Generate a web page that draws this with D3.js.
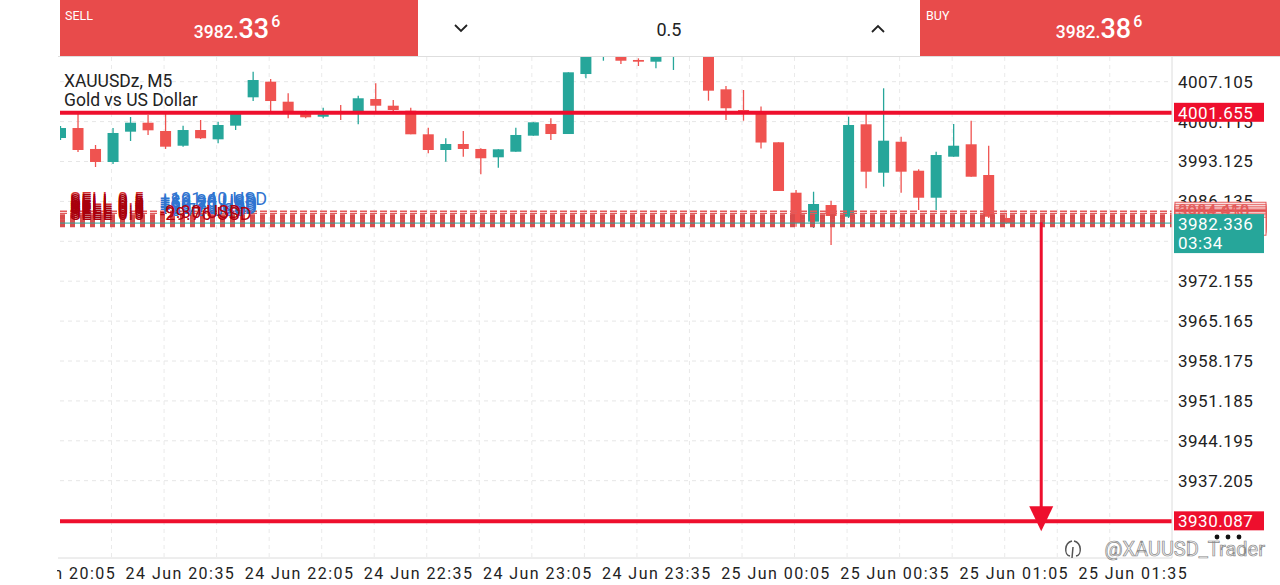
<!DOCTYPE html>
<html>
<head>
<meta charset="utf-8">
<script src="https://cdn.jsdelivr.net/npm/d3@7"></script>
<style>
  body { margin: 0; background: #fff; overflow: hidden; }
  text { font-family: Roboto, sans-serif; }
</style>
</head>
<body>
<div id="chart"></div>
<script>

// ---- data ----
var symbolName = "XAUUSDz, M5"
var symbolDesc = "Gold vs US Dollar"

var opens  = [3997.24,3998.99,3995.32,3993.04,3998.35,3999.92,3998.47,3995.89,3998.64,3997.01,
              3999.40,4004.37,4007.11,4003.60,4001.57,4000.97,4001.85,4001.85,4004.07,4002.90,
              4002.02,3997.89,3995.14,3996.19,3995.32,3993.86,3994.84,3997.65,3999.70,3997.94,
              4008.45,4012.50,4012.13,4010.91,4010.61,4012.00,4012.80,4013.20,4005.77,4002.15,
              4001.62,3996.49,3987.66,3982.58,3985.50,3983.45,3999.64,3991.16,3996.59,3991.51,
              3986.78,3993.97,3996.14,3990.76,3983.23]
var highs  = [3999.35,4001.45,3996.02,3998.99,4000.92,4001.27,4001.62,3999.40,4000.40,4000.10,
              4001.85,4008.86,4007.58,4005.07,4002.02,4002.55,4003.02,4004.65,4006.83,4003.90,
              4002.55,3999.05,3997.19,3998.47,3995.44,3995.26,3999.05,3999.99,4000.69,4008.75,
              4013.01,4014.00,4012.90,4011.20,4012.60,4013.50,4014.20,4013.80,4006.35,4005.65,
              4002.76,3996.49,3988.13,3987.83,3986.26,4000.97,4001.57,4005.95,3997.47,3991.76,
              3994.84,3999.70,4000.27,3995.89,3984.05]
var lows   = [3996.89,3994.79,3992.16,3992.69,3996.72,3997.77,3995.32,3995.72,3997.07,3996.31,
              3998.64,4003.72,4001.97,4000.69,4000.69,4000.69,4000.40,3999.64,4001.85,4001.85,
              3997.89,3994.56,3993.09,3993.97,3990.88,3992.04,3994.84,3997.65,3996.89,3997.94,
              4007.70,4010.78,4010.21,4009.86,4009.46,4009.16,4011.90,4003.78,4000.40,4000.27,
              3995.40,3987.96,3981.70,3981.48,3978.50,3983.23,3988.43,3988.71,3987.66,3984.63,
              3984.63,3993.97,3990.46,3983.23,3982.20]
var closes = [3998.99,3995.14,3993.04,3998.12,3999.92,3998.59,3995.72,3998.64,3997.19,3999.52,
              4001.57,4007.40,4003.72,4001.85,4000.87,4001.39,4001.50,4004.20,4002.90,4002.15,
              3997.89,3995.14,3996.19,3995.32,3993.69,3995.26,3997.77,3999.99,3997.94,4008.75,
              4012.31,4013.20,4010.78,4010.61,4012.13,4012.80,4013.50,4005.53,4002.45,4001.85,
              3996.45,3987.96,3982.35,3985.68,3983.58,3999.52,3991.34,3996.77,3991.34,3986.78,
              3994.26,3995.89,3990.46,3983.45,3982.336]

var timeLabels = ["24 Jun 20:05","24 Jun 20:35","24 Jun 22:05","24 Jun 22:35","24 Jun 23:05",
                  "24 Jun 23:35","25 Jun 00:05","25 Jun 00:35","25 Jun 01:05","25 Jun 01:35"]
var priceTicks = [4007.105,4000.115,3993.125,3986.135,3979.145,3972.155,3965.165,
                  3958.175,3951.185,3944.195,3937.205,3930.215]

var levelPrices = [4001.655, 3930.087]      // the two solid red levels
var arrowBar = 56                            // bar index of the down arrow
var bid = 3982.336, ask = 3982.386
var countdown = "03:34"
var volume = "0.5"

var orderPrices  = [3984.41,3984.05,3983.71,3983.40,3983.10,3982.80,3982.50,3982.20,3981.79]
var orderProfits = [101.40,83.20,66.20,50.70,35.70,20.70,5.70,-9.30,-29.76]

// ---- layout ----
var W = 1280, H = 585
var pLeft = 60, pRight = 1172, pTop = 57, pBottom = 558

var bull = "#26a69a", bear = "#ef5350", level = "#ee0f2d", barRed = "#e84b4b"

var svg = d3.select("#chart").append("svg")
    .attr("width", W).attr("height", H)

var x = d3.scaleLinear().domain([0, 54]).range([60.5, 1006.2])
var y = d3.scaleLinear().domain([4007.105, 3937.205]).range([81.7, 480.7])

var defs = svg.append("defs")
defs.append("clipPath").attr("id", "plot")
  .append("rect").attr("x", pLeft).attr("y", pTop)
  .attr("width", pRight - pLeft).attr("height", pBottom - pTop)
defs.append("clipPath").attr("id", "xlab")
  .append("rect").attr("x", 57).attr("y", 0).attr("width", W).attr("height", H - pBottom)

// grid
var grid = svg.append("g").attr("clip-path", "url(#plot)")
grid.selectAll(".hg").data(priceTicks).enter().append("line")
    .attr("x1", pLeft).attr("x2", pRight)
    .attr("y1", d => y(d)).attr("y2", d => y(d))
    .attr("stroke", "#e6e6e6").attr("stroke-dasharray", "4,4")
grid.selectAll(".vg").data(d3.range(0, 63, 3)).enter().append("line")
    .attr("x1", d => x(d) - 1.5).attr("x2", d => x(d) - 1.5)
    .attr("y1", pTop).attr("y2", pBottom)
    .attr("stroke", "#eaeaea").attr("stroke-dasharray", "4,4")

// candles
var bars = d3.range(opens.length).map(function(i) {
  return { i: i, o: opens[i], h: highs[i], l: lows[i], c: closes[i] }
})
var plot = svg.append("g").attr("clip-path", "url(#plot)")
var cg = plot.selectAll(".candle").data(bars).enter().append("g")
cg.append("line")
    .attr("x1", d => x(d.i)).attr("x2", d => x(d.i))
    .attr("y1", d => y(d.h)).attr("y2", d => y(d.l))
    .attr("stroke", d => d.c >= d.o ? bull : bear).attr("stroke-width", 1.3)
cg.append("rect")
    .attr("x", d => x(d.i) - 5.5).attr("width", 11)
    .attr("y", d => y(Math.max(d.o, d.c)))
    .attr("height", d => Math.max(1.5, Math.abs(y(d.o) - y(d.c))))
    .attr("fill", d => d.c >= d.o ? bull : bear)

// order lines (stacked sells)
plot.selectAll(".ord").data(orderPrices).enter().append("line")
    .attr("x1", pLeft).attr("x2", pRight)
    .attr("y1", d => y(d)).attr("y2", d => y(d))
    .attr("stroke", (d, i) => i < 2 ? "#e35a5a" : "#d94c4c")
    .attr("stroke-width", (d, i) => i < 2 ? 1.3 : 2.2)
    .attr("stroke-dasharray", (d, i) => i < 2 ? "7,3" : "5,5")

// current bid line
plot.append("line")
    .attr("x1", pLeft).attr("x2", pRight)
    .attr("y1", y(bid)).attr("y2", y(bid))
    .attr("stroke", bull).attr("stroke-width", 1)

// order labels left
var ol = svg.append("g")
ol.selectAll(".ot").data(orderPrices).enter().append("text")
    .attr("x", 70).attr("y", d => y(d) - 6)
    .attr("font-size", 18).attr("letter-spacing", 0.6)
    .attr("fill", (d, i) => i == 0 ? "#d32f2f" : "#a8000c")
    .text("SELL " + volume)
ol.selectAll(".op").data(orderPrices).enter().append("text")
    .attr("x", 160).attr("y", d => y(d) - 6)
    .attr("font-size", 18).attr("letter-spacing", 0.3)
    .attr("fill", (d, i) => orderProfits[i] >= 0 ? "#2f74d0" : "#b3000c")
    .text((d, i) => (orderProfits[i] >= 0 ? "+" : "") + orderProfits[i].toFixed(2) + " USD")

// red levels
svg.selectAll(".lvl").data(levelPrices).enter().append("line")
    .attr("x1", pLeft).attr("x2", pRight)
    .attr("y1", d => y(d)).attr("y2", d => y(d))
    .attr("stroke", level).attr("stroke-width", 4)

// arrow
var ax = x(arrowBar)
svg.append("line")
    .attr("x1", ax).attr("x2", ax)
    .attr("y1", y(orderPrices[6])).attr("y2", y(levelPrices[1]) - 12)
    .attr("stroke", level).attr("stroke-width", 3)
svg.append("path")
    .attr("d", "M" + (ax - 12) + "," + (y(levelPrices[1]) - 15) + "L" + (ax + 12) + "," + (y(levelPrices[1]) - 15) +
               "L" + ax + "," + (y(levelPrices[1]) + 10) + "Z")
    .attr("fill", level)

// axes lines
svg.append("line").attr("x1", pRight).attr("x2", pRight).attr("y1", pTop).attr("y2", pBottom)
    .attr("stroke", "#dcdcdc")
svg.append("line").attr("x1", 58).attr("x2", pRight).attr("y1", pBottom).attr("y2", pBottom)
    .attr("stroke", "#dcdcdc")

// y axis
var yAxis = svg.append("g").attr("transform", "translate(" + (pRight + 2) + ",0)")
    .call(d3.axisRight(y).tickValues(priceTicks).tickFormat(d3.format(".3f")).tickSize(0))
yAxis.select(".domain").remove()
yAxis.selectAll("text").attr("font-size", 17).attr("fill", "#222")
    .attr("font-family", "Roboto").attr("letter-spacing", 0.5).attr("dx", 1)

// x axis
var tx = d3.scalePoint().domain(timeLabels).range([6, 1078])
var xAxis = svg.append("g").attr("transform", "translate(0," + pBottom + ")")
    .attr("clip-path", "url(#xlab)")
    .call(d3.axisBottom(tx).tickSize(0))
xAxis.select(".domain").remove()
xAxis.selectAll("text").attr("font-size", 16).attr("fill", "#222")
    .attr("font-family", "Roboto").attr("text-anchor", "start")
    .attr("letter-spacing", 1.45).attr("y", 0).attr("dy", 21)

// right side order boxes
var rb = svg.append("g")
rb.selectAll(".obox").data(orderPrices).enter().append("rect")
    .attr("x", pRight + 3).attr("y", d => y(d) - 9).attr("width", 91).attr("height", 18)
    .attr("fill", (d, i) => i == 4 ? "#e84b4b" : "#fff")
    .attr("stroke", "#e35a5a").attr("stroke-width", 1)
rb.selectAll(".otxt").data(orderPrices.slice(0, 2)).enter().append("text")
    .attr("x", pRight + 6).attr("y", d => y(d) + 5)
    .attr("font-size", 17).attr("fill", "#e35a5a")
    .text(d => d.toFixed(3))

// level labels
var ll = svg.selectAll(".ll").data(levelPrices).enter().append("g")
ll.append("rect").attr("x", pRight + 2).attr("y", d => y(d) - 10)
    .attr("width", 90).attr("height", 19).attr("fill", level)
ll.append("text").attr("x", pRight + 6).attr("y", d => y(d) + 6)
    .attr("font-size", 17).attr("fill", "#fff").attr("letter-spacing", 0.5)
    .text(d => d.toFixed(3))

// bid label
svg.append("rect").attr("x", pRight + 2).attr("y", y(bid) - 9)
    .attr("width", 90).attr("height", 39).attr("fill", bull)
svg.append("text").attr("x", pRight + 6).attr("y", y(bid) + 7)
    .attr("font-size", 17).attr("fill", "#fff").attr("letter-spacing", 0.5)
    .text(bid.toFixed(3))
svg.append("text").attr("x", pRight + 6).attr("y", y(bid) + 26)
    .attr("font-size", 17).attr("fill", "#fff").attr("letter-spacing", 0.5)
    .text(countdown)

// legend
svg.append("text").attr("x", 64).attr("y", 87).attr("font-size", 17.5)
    .attr("font-family", "Noto Sans").attr("fill", "#222").text(symbolName)
svg.append("text").attr("x", 64).attr("y", 106).attr("font-size", 17.5)
    .attr("font-family", "Noto Sans").attr("fill", "#222").text(symbolDesc)

// watermark
svg.selectAll(".dot").data([0, 1, 2]).enter().append("circle")
    .attr("cx", d => 1217 + d * 11).attr("cy", 537).attr("r", 2.4).attr("fill", "#111")
svg.append("text").attr("x", 1265).attr("y", 556).attr("text-anchor", "end")
    .attr("font-size", 20).attr("fill", "#f2f2f2").attr("stroke", "#8a8a8a").attr("stroke-width", 0.7)
    .text("@XAUUSD_Trader")
svg.append("path")
    .attr("d", "M1072,541 C1064,543 1064,555 1070,556 M1074,541 C1082,543 1082,555 1076,556 M1073,547 L1072,558")
    .attr("fill", "none").attr("stroke", "#555").attr("stroke-width", 1.5)

// ---- top trade bar ----
var bar = svg.append("g")
bar.append("rect").attr("x", 58).attr("y", 0).attr("width", W - 58).attr("height", 56).attr("fill", "#fff")
bar.append("line").attr("x1", 58).attr("x2", W).attr("y1", 56.5).attr("y2", 56.5).attr("stroke", "#dedede")
bar.append("rect").attr("x", 60).attr("y", 0).attr("width", 358).attr("height", 56).attr("fill", barRed)
bar.append("rect").attr("x", 920).attr("y", 0).attr("width", 360).attr("height", 56).attr("fill", barRed)

function priceText(px, label, value) {
  var s = value.toFixed(3)
  bar.append("text").attr("x", px.lx).attr("y", 20).attr("font-size", 12.5)
      .attr("fill", "#fff").text(label)
  var t = bar.append("text").attr("x", px.cx).attr("y", 38).attr("text-anchor", "middle")
      .attr("fill", "#fff").attr("font-weight", 500)
  t.append("tspan").attr("font-size", 17.5).text(s.slice(0, 5))
  t.append("tspan").attr("font-size", 27).text(s.slice(5, 7))
  t.append("tspan").attr("font-size", 16).attr("dy", -11).attr("dx", 2).text(s.slice(7))
}
priceText({ lx: 65, cx: 237 }, "SELL", bid)
priceText({ lx: 926, cx: 1099 }, "BUY", ask)

bar.append("text").attr("x", 669).attr("y", 36).attr("text-anchor", "middle")
    .attr("font-size", 18).attr("fill", "#222").text(volume)
bar.append("path").attr("d", "M455,25 L461,31 L467,25")
    .attr("fill", "none").attr("stroke", "#222").attr("stroke-width", 1.8)
bar.append("path").attr("d", "M872,32 L878,26 L884,32")
    .attr("fill", "none").attr("stroke", "#222").attr("stroke-width", 1.8)

</script>
</body>
</html>
